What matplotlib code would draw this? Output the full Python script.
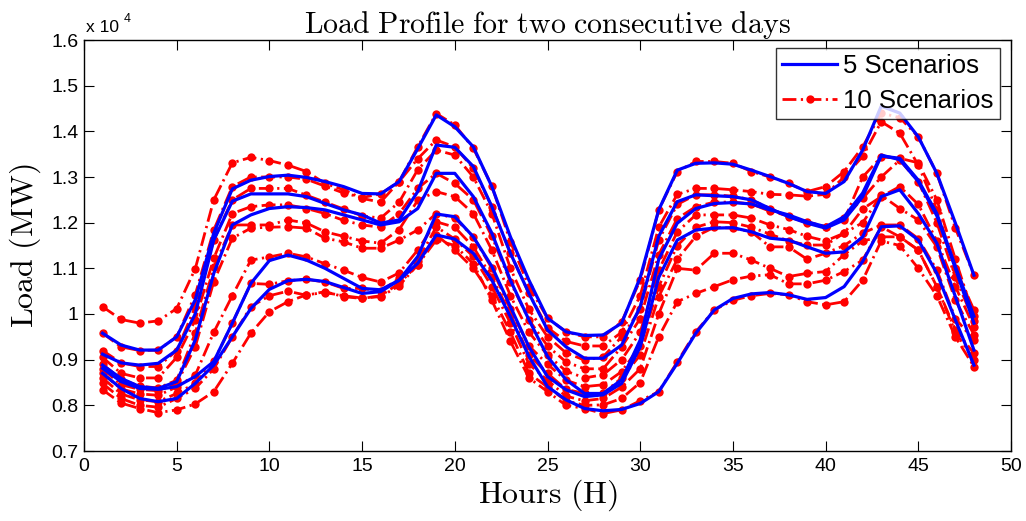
import matplotlib
matplotlib.use("Agg")
import matplotlib.pyplot as plt
from matplotlib.lines import Line2D

plt.rcParams['font.family'] = ['Liberation Sans', 'DejaVu Sans']
plt.rcParams['mathtext.fontset'] = 'cm'

hours = list(range(1, 49))

# ---- 5 scenarios (x 10^4 MW) ----
blue_s1 = [0.958, 0.932, 0.921, 0.921, 0.950, 1.031, 1.177, 1.274, 1.293, 1.301,
           1.304, 1.299, 1.290, 1.279, 1.264, 1.263, 1.290, 1.362, 1.436, 1.410,
           1.366, 1.279, 1.169, 1.074, 0.991, 0.961, 0.953, 0.954, 0.980, 1.080,
           1.228, 1.315, 1.330, 1.331, 1.328, 1.315, 1.301, 1.286, 1.268, 1.264,
           1.290, 1.359, 1.455, 1.440, 1.388, 1.308, 1.199, 1.085]
blue_s2 = [0.912, 0.893, 0.888, 0.892, 0.921, 1.000, 1.162, 1.247, 1.263, 1.263,
           1.263, 1.257, 1.242, 1.228, 1.217, 1.199, 1.206, 1.268, 1.370, 1.365,
           1.323, 1.235, 1.133, 1.045, 0.965, 0.928, 0.903, 0.903, 0.932, 1.016,
           1.170, 1.246, 1.261, 1.259, 1.257, 1.250, 1.231, 1.213, 1.199, 1.188,
           1.206, 1.257, 1.346, 1.341, 1.293, 1.220, 1.104, 0.995]
blue_s3 = [0.888, 0.859, 0.841, 0.837, 0.852, 0.943, 1.089, 1.195, 1.217, 1.231,
           1.235, 1.233, 1.228, 1.217, 1.206, 1.195, 1.202, 1.231, 1.308, 1.308,
           1.257, 1.177, 1.074, 0.987, 0.907, 0.856, 0.826, 0.826, 0.856, 0.943,
           1.120, 1.199, 1.231, 1.242, 1.244, 1.241, 1.228, 1.217, 1.202, 1.191,
           1.213, 1.265, 1.348, 1.338, 1.290, 1.215, 1.100, 0.980]
blue_s4 = [0.881, 0.852, 0.837, 0.835, 0.841, 0.863, 0.896, 0.980, 1.067, 1.117,
           1.129, 1.118, 1.100, 1.078, 1.056, 1.053, 1.074, 1.126, 1.219, 1.213,
           1.169, 1.104, 1.016, 0.928, 0.863, 0.834, 0.819, 0.823, 0.848, 0.928,
           1.080, 1.162, 1.184, 1.188, 1.189, 1.180, 1.166, 1.162, 1.147, 1.133,
           1.136, 1.169, 1.257, 1.272, 1.220, 1.155, 1.038, 0.921]
blue_s5 = [0.870, 0.837, 0.815, 0.808, 0.815, 0.848, 0.888, 0.950, 1.012, 1.054,
           1.073, 1.076, 1.071, 1.058, 1.045, 1.049, 1.074, 1.111, 1.173, 1.164,
           1.133, 1.074, 0.994, 0.907, 0.841, 0.812, 0.793, 0.788, 0.791, 0.804,
           0.830, 0.892, 0.958, 1.009, 1.034, 1.044, 1.047, 1.042, 1.032, 1.036,
           1.060, 1.115, 1.191, 1.193, 1.162, 1.089, 0.987, 0.888]

# ---- 10 scenarios (x 10^4 MW) ----
red_s1 = [1.016, 0.988, 0.980, 0.985, 1.012, 1.099, 1.250, 1.331, 1.343, 1.336,
          1.326, 1.312, 1.286, 1.272, 1.253, 1.245, 1.290, 1.366, 1.439, 1.414,
          1.363, 1.280, 1.158, 1.060, 0.991, 0.961, 0.950, 0.950, 0.983, 1.074,
          1.228, 1.312, 1.334, 1.334, 1.330, 1.312, 1.300, 1.286, 1.268, 1.279,
          1.312, 1.366, 1.440, 1.430, 1.388, 1.308, 1.188, 1.085]
red_s2 = [0.958, 0.928, 0.920, 0.921, 0.950, 1.042, 1.184, 1.279, 1.300, 1.300,
          1.300, 1.295, 1.280, 1.265, 1.255, 1.263, 1.290, 1.340, 1.381, 1.366,
          1.319, 1.235, 1.133, 1.045, 0.970, 0.940, 0.930, 0.930, 0.960, 1.040,
          1.190, 1.262, 1.275, 1.275, 1.272, 1.268, 1.262, 1.261, 1.258, 1.262,
          1.300, 1.345, 1.421, 1.396, 1.326, 1.228, 1.100, 1.009]
red_s3 = [0.920, 0.893, 0.885, 0.885, 0.920, 1.016, 1.162, 1.250, 1.275, 1.275,
          1.275, 1.260, 1.245, 1.230, 1.215, 1.210, 1.245, 1.316, 1.359, 1.348,
          1.300, 1.220, 1.100, 1.010, 0.950, 0.915, 0.899, 0.906, 0.950, 1.010,
          1.162, 1.240, 1.261, 1.261, 1.258, 1.250, 1.231, 1.213, 1.200, 1.191,
          1.206, 1.300, 1.344, 1.341, 1.331, 1.250, 1.120, 0.995]
red_s4 = [0.905, 0.870, 0.860, 0.860, 0.905, 0.987, 1.122, 1.220, 1.235, 1.239,
          1.239, 1.231, 1.220, 1.205, 1.195, 1.190, 1.220, 1.275, 1.308, 1.286,
          1.250, 1.170, 1.070, 0.987, 0.930, 0.895, 0.880, 0.880, 0.928, 0.990,
          1.130, 1.209, 1.235, 1.245, 1.245, 1.241, 1.225, 1.215, 1.202, 1.191,
          1.210, 1.253, 1.300, 1.337, 1.290, 1.200, 1.080, 0.985]
red_s5 = [0.890, 0.857, 0.842, 0.838, 0.855, 0.958, 1.102, 1.195, 1.195, 1.195,
          1.206, 1.199, 1.180, 1.170, 1.160, 1.155, 1.185, 1.249, 1.268, 1.257,
          1.220, 1.140, 1.040, 0.960, 0.910, 0.875, 0.860, 0.867, 0.900, 0.960,
          1.096, 1.180, 1.217, 1.217, 1.217, 1.210, 1.195, 1.185, 1.170, 1.160,
          1.177, 1.230, 1.257, 1.279, 1.240, 1.160, 1.060, 0.972]
red_s6 = [0.880, 0.845, 0.835, 0.832, 0.848, 0.928, 1.071, 1.166, 1.188, 1.190,
          1.191, 1.188, 1.166, 1.158, 1.144, 1.144, 1.162, 1.184, 1.220, 1.210,
          1.169, 1.100, 1.010, 0.930, 0.890, 0.855, 0.841, 0.845, 0.874, 0.930,
          1.060, 1.150, 1.190, 1.202, 1.200, 1.190, 1.175, 1.160, 1.151, 1.151,
          1.177, 1.200, 1.260, 1.231, 1.206, 1.147, 1.030, 0.955]
red_s7 = [0.870, 0.836, 0.825, 0.822, 0.840, 0.866, 0.960, 1.040, 1.118, 1.125,
          1.133, 1.125, 1.110, 1.096, 1.080, 1.070, 1.090, 1.140, 1.202, 1.190,
          1.147, 1.080, 1.000, 0.910, 0.870, 0.835, 0.826, 0.826, 0.860, 0.910,
          1.038, 1.120, 1.170, 1.190, 1.188, 1.180, 1.147, 1.147, 1.120, 1.133,
          1.150, 1.177, 1.195, 1.195, 1.165, 1.096, 0.990, 0.943]
red_s8 = [0.860, 0.825, 0.812, 0.808, 0.826, 0.848, 0.896, 0.980, 1.067, 1.065,
          1.073, 1.076, 1.070, 1.056, 1.056, 1.050, 1.078, 1.116, 1.191, 1.164,
          1.126, 1.060, 0.980, 0.890, 0.855, 0.820, 0.810, 0.815, 0.840, 0.880,
          1.000, 1.100, 1.096, 1.133, 1.133, 1.118, 1.100, 1.082, 1.089, 1.093,
          1.130, 1.160, 1.169, 1.169, 1.140, 1.060, 0.965, 0.914]
red_s9 = [0.848, 0.815, 0.800, 0.796, 0.815, 0.837, 0.880, 0.950, 1.016, 1.040,
          1.050, 1.041, 1.049, 1.038, 1.034, 1.040, 1.067, 1.108, 1.173, 1.140,
          1.100, 1.040, 0.960, 0.870, 0.840, 0.810, 0.800, 0.801, 0.815, 0.850,
          0.950, 1.027, 1.045, 1.060, 1.075, 1.083, 1.086, 1.066, 1.066, 1.074,
          1.093, 1.118, 1.191, 1.169, 1.140, 1.060, 0.960, 0.900]
red_s10 = [0.834, 0.805, 0.793, 0.784, 0.790, 0.803, 0.830, 0.892, 0.958, 1.005,
           1.027, 1.042, 1.047, 1.040, 1.035, 1.038, 1.062, 1.108, 1.162, 1.150,
           1.110, 1.030, 0.940, 0.860, 0.830, 0.800, 0.793, 0.782, 0.790, 0.810,
           0.830, 0.895, 0.961, 1.009, 1.030, 1.040, 1.045, 1.042, 1.027, 1.020,
           1.027, 1.074, 1.160, 1.150, 1.100, 1.040, 0.950, 0.885]

blue_series = [blue_s1, blue_s2, blue_s3, blue_s4, blue_s5]
red_series = [red_s1, red_s2, red_s3, red_s4, red_s5,
              red_s6, red_s7, red_s8, red_s9, red_s10]

x_ticks = [0, 5, 10, 15, 20, 25, 30, 35, 40, 45, 50]
y_ticks = [0.7, 0.8, 0.9, 1.0, 1.1, 1.2, 1.3, 1.4, 1.5, 1.6]
y_tick_labels = ["0.7", "0.8", "0.9", "1", "1.1", "1.2", "1.3", "1.4", "1.5", "1.6"]

W, H = 1026, 521
fig = plt.figure(figsize=(W / 100, H / 100), dpi=100)
ax = fig.add_axes([84 / W, 1 - 451 / H, 927 / W, 411 / H])

red_dash = (0, (5, 1.6, 0.8, 1.6))
for s in red_series:
    ax.plot(hours, s, color='#ff0000', lw=2.0, linestyle=red_dash,
            marker='o', markersize=6, markeredgewidth=0, zorder=2)
for s in blue_series:
    ax.plot(hours, s, color='#0000ff', lw=2.3, linestyle='-', zorder=3)

ax.set_xlim(0, 50)
ax.set_ylim(0.7, 1.6)
ax.set_xticks(x_ticks)
ax.set_xticklabels([str(t) for t in x_ticks])
ax.set_yticks(y_ticks)
ax.set_yticklabels(y_tick_labels)
ax.tick_params(direction='in', length=7, width=0.8, top=True, right=True,
               labelsize=14, colors='black')
ax.tick_params(axis='x', pad=5)
ax.tick_params(axis='y', pad=4)
for sp in ax.spines.values():
    sp.set_linewidth(1.0)

ax.set_title(r'$\mathrm{Load\ Profile\ for\ two\ consecutive\ days}$',
             fontsize=21.5, pad=5)
ax.set_xlabel(r'$\mathrm{Hours\ (H)}$', fontsize=23, labelpad=2)
ax.set_ylabel(r'$\mathrm{Load\ (MW)}$', fontsize=23, labelpad=6)

ax.text(0.002, 1.019, 'x 10', transform=ax.transAxes, fontsize=12.5,
        ha='left', va='baseline')
ax.text(0.043, 1.043, '4', transform=ax.transAxes, fontsize=9,
        ha='left', va='baseline')

handles = [Line2D([], [], color='#0000ff', lw=2.3, linestyle='-'),
           Line2D([], [], color='#ff0000', lw=2.0, linestyle=red_dash,
                  marker='o', markersize=6, markeredgewidth=0)]
leg = ax.legend(handles, ['5 Scenarios', '10 Scenarios'], loc='upper right',
                bbox_to_anchor=(1 - 11 / 927, 1 - 8 / 411), borderaxespad=0,
                fontsize=18.5, frameon=True, fancybox=False, numpoints=1,
                handlelength=2.15, handletextpad=0.23, labelspacing=0.4,
                borderpad=0.25)
leg.get_frame().set_edgecolor('black')
leg.get_frame().set_linewidth(1.0)
leg.set_zorder(5)

fig.savefig('out.png', dpi=100, facecolor='white')
